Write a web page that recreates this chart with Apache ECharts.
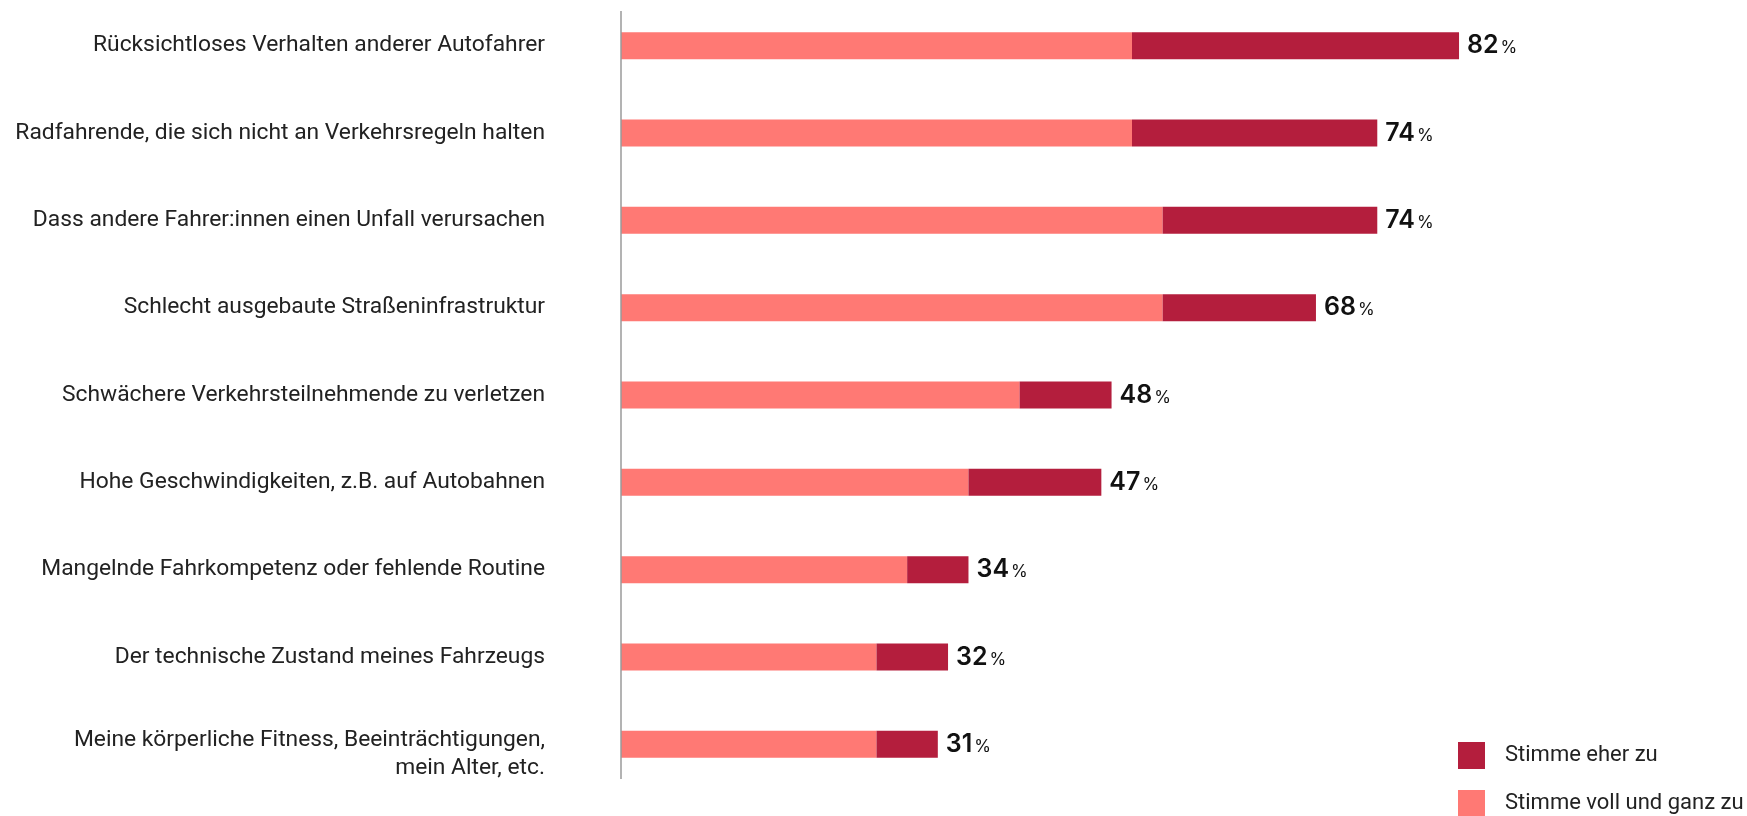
<!DOCTYPE html>
<html lang="de">
<head>
<meta charset="utf-8">
<title>Sorgen im Straßenverkehr</title>
<script src="https://cdn.jsdelivr.net/npm/echarts@6/dist/echarts.min.js"></script>
<style>
  html, body { margin: 0; padding: 0; background: #ffffff; }
  #chart { width: 1747px; height: 816px; }
</style>
</head>
<body>
<div id="chart"></div>
<script>
// Kategorien von oben nach unten
const categories = [
  'Rücksichtloses Verhalten anderer Autofahrer',
  'Radfahrende, die sich nicht an Verkehrsregeln halten',
  'Dass andere Fahrer:innen einen Unfall verursachen',
  'Schlecht ausgebaute Straßeninfrastruktur',
  'Schwächere Verkehrsteilnehmende zu verletzen',
  'Hohe Geschwindigkeiten, z.B. auf Autobahnen',
  'Mangelnde Fahrkompetenz oder fehlende Routine',
  'Der technische Zustand meines Fahrzeugs',
  'Meine körperliche Fitness, Beeinträchtigungen,\nmein Alter, etc.'
];

const seriesNames = ['Stimme voll und ganz zu', 'Stimme eher zu'];

// Anteile in Prozent
const stimmeVollUndGanz = [50, 50, 53, 53, 39, 34, 28, 25, 25];
const stimmeEher        = [32, 24, 21, 15,  9, 13,  6,  7,  6];

const colorVoll = '#FF7974';
const colorEher = '#B41E3D';

const totals = stimmeVollUndGanz.map((v, i) => v + stimmeEher[i]);

const labelFont = 'Roboto, "Noto Sans", sans-serif';
const valueFont = 'Inter, Roboto, sans-serif';

const chart = echarts.init(document.getElementById('chart'), null, { renderer: 'canvas' });

// Mehrzeilige Beschriftung: erste Zeile auf Balkenhöhe, zweite darunter
function categoryLabel(text) {
  if (text.indexOf('\n') < 0) return text;
  return '{s| }\n' + text.split('\n').map(t => '{m|' + t + '}').join('\n');
}

const legendText = {
  color: '#222222',
  fontFamily: labelFont,
  fontSize: 22,
  padding: [0, 0, 0, 15]
};

chart.setOption({
  backgroundColor: '#ffffff',
  animation: false,
  grid: {
    left: 621,
    top: 2,
    width: 1022,
    height: 786,
    containLabel: false
  },
  xAxis: {
    type: 'value',
    min: 0,
    max: 100,
    show: false,
    splitLine: { show: false }
  },
  yAxis: {
    type: 'category',
    inverse: true,
    data: categories,
    axisLine: { show: false },
    axisTick: { show: false },
    splitLine: { show: false },
    axisLabel: {
      margin: 76,
      color: '#222222',
      fontFamily: labelFont,
      fontSize: 22.8,
      align: 'right',
      formatter: categoryLabel,
      rich: {
        s: { lineHeight: 20, fontSize: 10, fontFamily: labelFont },
        m: { lineHeight: 28, fontSize: 22.8, fontFamily: labelFont, color: '#222222', align: 'right' }
      }
    }
  },
  legend: [
    {
      left: 1458,
      top: 742,
      padding: 0,
      itemWidth: 27,
      itemHeight: 27,
      icon: 'rect',
      selectedMode: false,
      data: ['Stimme eher zu'],
      textStyle: legendText
    },
    {
      left: 1458,
      top: 790,
      padding: 0,
      itemWidth: 27,
      itemHeight: 27,
      icon: 'rect',
      selectedMode: false,
      data: ['Stimme voll und ganz zu'],
      textStyle: legendText
    }
  ],
  graphic: [
    {
      type: 'line',
      shape: { x1: 621, y1: 11, x2: 621, y2: 779 },
      style: { stroke: '#9a9a9a', lineWidth: 1.5 },
      z: 10
    }
  ],
  series: [
    {
      name: seriesNames[0],
      type: 'bar',
      stack: 'gesamt',
      barWidth: 27,
      itemStyle: { color: colorVoll },
      data: stimmeVollUndGanz
    },
    {
      name: seriesNames[1],
      type: 'bar',
      stack: 'gesamt',
      barWidth: 27,
      itemStyle: { color: colorEher },
      data: stimmeEher,
      label: {
        show: true,
        position: 'right',
        distance: 8,
        formatter: p => '{v|' + totals[p.dataIndex] + '}{p|%}',
        rich: {
          v: {
            fontFamily: valueFont,
            fontWeight: 600,
            fontSize: 25,
            color: '#111111'
          },
          p: {
            fontFamily: valueFont,
            fontSize: 17,
            color: '#111111',
            padding: [5, 0, 0, 2]
          }
        }
      }
    }
  ]
});
</script>
</body>
</html>
